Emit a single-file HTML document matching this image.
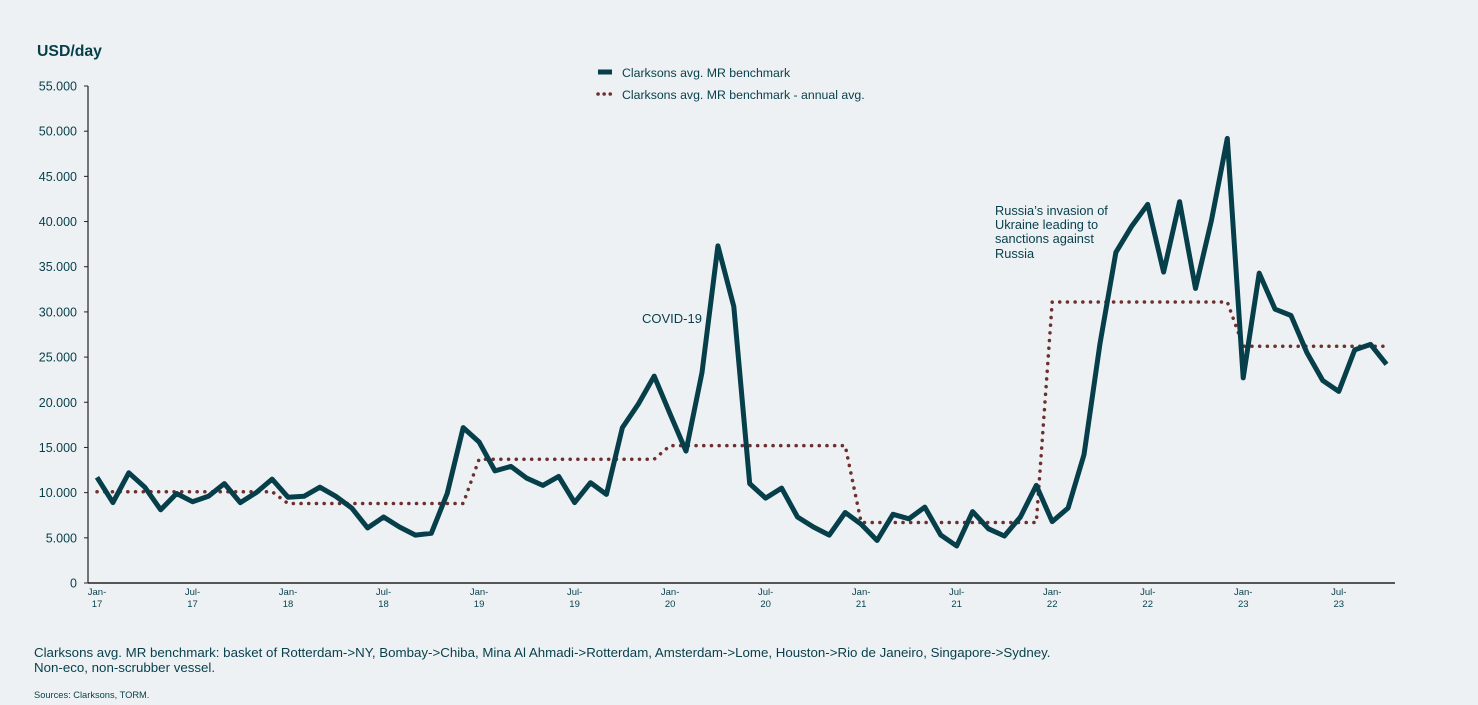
<!DOCTYPE html>
<html><head><meta charset="utf-8"><style>
body{margin:0;background:#edf1f4;font-family:"Liberation Sans",Arial,sans-serif;}
svg{display:block}
</style></head><body>
<svg width="1478" height="705" id="c" xmlns="http://www.w3.org/2000/svg">
<rect width="1478" height="705" fill="#edf1f4"/>
<text x="37" y="56" font-size="15.8" font-weight="bold" fill="#063f4a">USD/day</text>
<g id="yt"></g><g id="xt"></g>
<line x1="88" y1="86" x2="88" y2="583" stroke="#222" stroke-width="1.2"/>
<line x1="88" y1="583" x2="1395" y2="583" stroke="#222" stroke-width="1.5"/>
<path id="avg" fill="none" stroke="#6e2f2f" stroke-width="3.5" stroke-dasharray="0.1 7.6" stroke-linecap="round"/>
<path id="mr" fill="none" stroke="#063f4a" stroke-width="5" stroke-linejoin="round"/>
<g>
<line x1="598" y1="72" x2="612" y2="72" stroke="#063f4a" stroke-width="5"/>
<text x="622" y="77" font-size="12.3" fill="#063f4a">Clarksons avg. MR benchmark</text>
<line x1="598" y1="94" x2="612" y2="94" stroke="#6e2f2f" stroke-width="3.5" stroke-dasharray="0.1 6" stroke-linecap="round"/>
<text x="622" y="99" font-size="12.3" fill="#063f4a">Clarksons avg. MR benchmark - annual avg.</text>
</g>
<text x="642" y="323" font-size="13" fill="#063f4a">COVID-19</text>
<text font-size="12.8" fill="#063f4a"><tspan x="995" y="215">Russia’s invasion of</tspan><tspan x="995" y="229">Ukraine leading to</tspan><tspan x="995" y="243">sanctions against</tspan><tspan x="995" y="258">Russia</tspan></text>
<text x="34" y="657" font-size="13.3" fill="#063f4a">Clarksons avg. MR benchmark: basket of Rotterdam-&gt;NY, Bombay-&gt;Chiba, Mina Al Ahmadi-&gt;Rotterdam, Amsterdam-&gt;Lome, Houston-&gt;Rio de Janeiro, Singapore-&gt;Sydney.</text>
<text x="34" y="672" font-size="13.3" fill="#063f4a">Non-eco, non-scrubber vessel.</text>
<text x="34" y="698" font-size="9.3" fill="#063f4a">Sources: Clarksons, TORM.</text>
</svg>
<script>
const mrValues=[11.7,8.9,12.2,10.6,8.1,9.9,9.0,9.6,11.0,8.9,10.0,11.5,
9.5,9.6,10.6,9.6,8.3,6.1,7.3,6.2,5.3,5.5,9.9,17.2,
15.6,12.4,12.9,11.6,10.8,11.8,8.9,11.1,9.8,17.2,19.8,22.9,
18.7,14.6,23.3,37.3,30.6,11.0,9.4,10.5,7.3,6.2,5.3,7.8,
6.5,4.7,7.6,7.1,8.4,5.3,4.1,7.9,6.0,5.2,7.3,10.8,
6.8,8.3,14.2,26.5,36.6,39.5,41.9,34.4,42.2,32.6,40.1,49.2,
22.7,34.3,30.3,29.6,25.5,22.4,21.2,25.8,26.4,24.2];
const years=[2017,2018,2019,2020,2021,2022,2023];
const annualAvg=[10.1,8.8,13.7,15.2,6.7,31.1,26.2];
const yTicks=[0,5,10,15,20,25,30,35,40,45,50,55];
const xTickLabels=["Jan-17","Jul-17","Jan-18","Jul-18","Jan-19","Jul-19","Jan-20","Jul-20","Jan-21","Jul-21","Jan-22","Jul-22","Jan-23","Jul-23"];
const NS="http://www.w3.org/2000/svg";
const X=i=>97+i*15.92;
const Y=v=>583-v*(497/55);
const yt=document.getElementById('yt'),xt=document.getElementById('xt');
yTicks.forEach(v=>{
 const t=document.createElementNS(NS,'text');
 
 
 t.setAttribute('x',77);t.setAttribute('y',Y(v)+4.5);t.setAttribute('text-anchor','end');
 t.setAttribute('font-size','12.5');t.setAttribute('fill','#063f4a');
 t.textContent=v===0?'0':v+'.000';yt.appendChild(t);
 const l=document.createElementNS(NS,'line');
 
 
 l.setAttribute('x1',84);l.setAttribute('x2',88);l.setAttribute('y1',Y(v));l.setAttribute('y2',Y(v));l.setAttribute('stroke','#222');
 yt.appendChild(l);
});
xTickLabels.forEach((s,k)=>{
 const p=s.split('-'),t=document.createElementNS(NS,'text');
 
 
 t.setAttribute('text-anchor','middle');t.setAttribute('font-size','9.5');t.setAttribute('fill','#063f4a');
 const x=X(k*6);
 t.innerHTML=`<tspan x="${x}" y="595">${p[0]}-</tspan><tspan x="${x}" y="607">${p[1]}</tspan>`;
 xt.appendChild(t);
});
document.getElementById('mr').setAttribute('d',mrValues.map((v,i)=>(i?'L':'M')+X(i).toFixed(1)+' '+Y(v).toFixed(1)).join(' '));
const avgPts=mrValues.map((v,i)=>annualAvg[Math.floor(i/12)]);
document.getElementById('avg').setAttribute('d',avgPts.map((v,i)=>(i?'L':'M')+X(i).toFixed(1)+' '+Y(v).toFixed(1)).join(' '));
</script>
</body></html>
